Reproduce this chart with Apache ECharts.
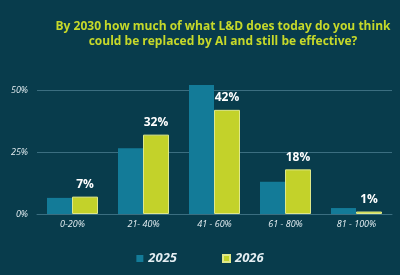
<!DOCTYPE html>
<html>
<head>
<meta charset="utf-8">
<script src="https://cdn.jsdelivr.net/npm/echarts@6/dist/echarts.min.js"></script>
<style>
  html, body { margin: 0; padding: 0; background: #083c4c; }
  #chart { width: 400px; height: 275px; }
</style>
</head>
<body>
<div id="chart"></div>
<script>
const categories = ["0-20%", "21- 40%", "41 - 60%", "61 - 80%", "81 - 100%"];
const values2025 = [6.5, 26.5, 52, 13, 2.4];
const values2026 = [7, 32, 42, 18, 1];
const yTicks = [0, 25, 50];

const titleText = "By 2030 how much of what L&D does today do you think\ncould be replaced by AI and still be effective?";

const chart = echarts.init(document.getElementById("chart"), null, { renderer: "canvas" });

chart.setOption({
  backgroundColor: "#083c4c",
  animation: false,
  title: {
    text: titleText,
    left: 218,
    top: 14,
    textAlign: "center",
    textStyle: {
      color: "#c6d92a",
      fontFamily: "Open Sans",
      fontWeight: "bold",
      fontSize: 12,
      lineHeight: 15,
    },
  },
  legend: {
    bottom: 5,
    left: "center",
    itemWidth: 7,
    itemHeight: 7,
    itemGap: 45,
    icon: "rect",
    textStyle: {
      color: "#e4eef2",
      fontFamily: "Open Sans",
      fontStyle: "italic",
      fontWeight: "bold",
      fontSize: 13,
    },
    data: ["2025", "2026"],
  },
  grid: { left: 37, right: 8, top: 90, bottom: 61 },
  xAxis: {
    type: "category",
    data: categories,
    axisLine: { lineStyle: { color: "#3b6e80", width: 1 } },
    axisTick: { show: false },
    axisLabel: {
      color: "#e4eef2",
      fontFamily: "Open Sans",
      fontStyle: "italic",
      fontSize: 9,
      margin: 6,
    },
  },
  yAxis: {
    type: "value",
    min: yTicks[0],
    max: yTicks[yTicks.length - 1],
    interval: 25,
    axisLine: { show: false },
    axisTick: { show: false },
    splitLine: { lineStyle: { color: "#3b6e80", width: 1 } },
    axisLabel: {
      color: "#e4eef2",
      fontFamily: "Open Sans",
      fontStyle: "italic",
      fontSize: 9,
      margin: 9,
      formatter: "{value}%",
    },
  },
  series: [
    {
      name: "2025",
      type: "bar",
      data: values2025,
      clip: false,
      barWidth: 25,
      barGap: "0%",
      itemStyle: { color: "#137b98" },
    },
    {
      name: "2026",
      type: "bar",
      data: values2026,
      clip: false,
      barWidth: 26,
      itemStyle: { color: "#c3d22a", borderColor: "#dfe88a", borderWidth: 1 },
      label: {
        show: true,
        position: "top",
        distance: 6,
        color: "#ffffff",
        fontFamily: "Open Sans",
        fontWeight: "bold",
        fontSize: 12,
        formatter: "{c}%",
      },
    },
  ],
});
</script>
</body>
</html>
